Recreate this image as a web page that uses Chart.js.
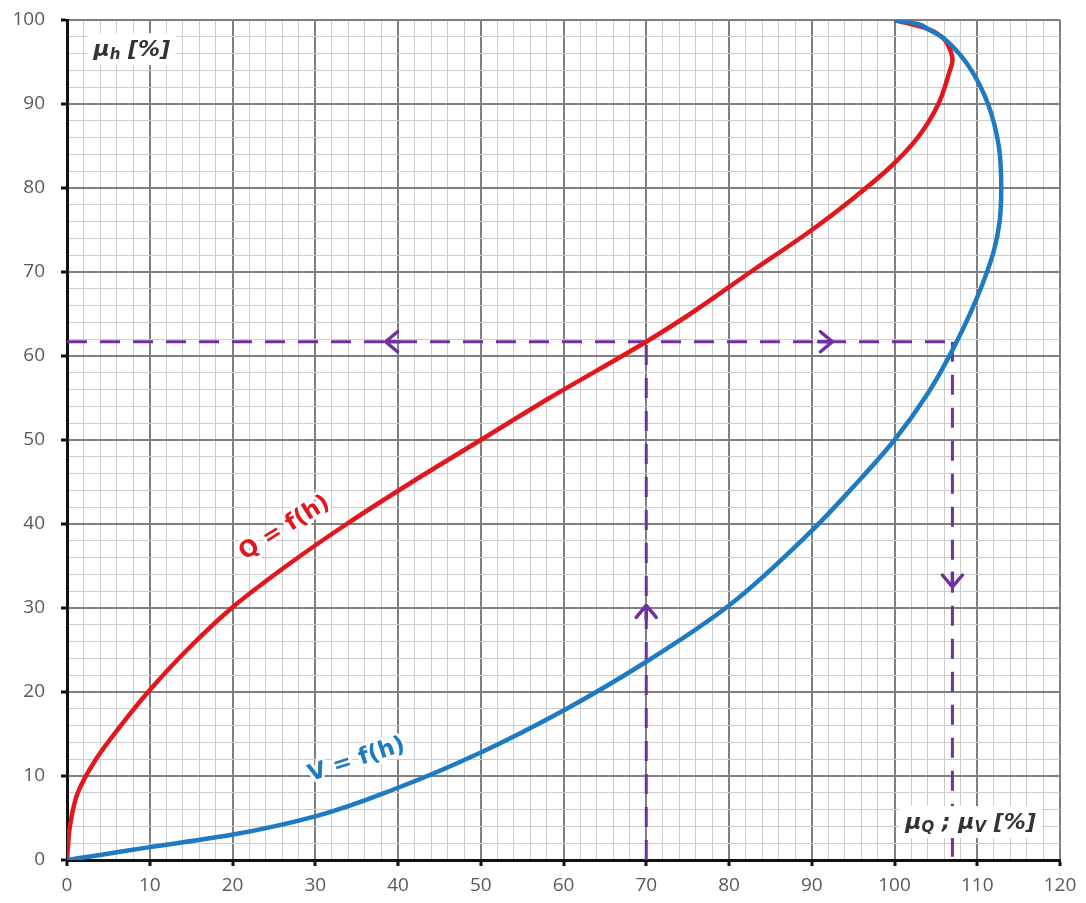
<!DOCTYPE html>
<html>
<head>
<meta charset="utf-8">
<title>Q = f(h), V = f(h)</title>
<script src="https://cdn.jsdelivr.net/npm/chart.js@4.4.0/dist/chart.umd.min.js"></script>
<style>
    html, body { margin: 0; padding: 0; background: #ffffff; }
    #wrap { width: 1086px; height: 903px; }
</style>
</head>
<body>
<div id="wrap"><canvas id="chart" width="1086" height="903"></canvas></div>
<script>
// Q = f(h): relative flow against relative filling height
const qHeights = [0, 4, 8, 12, 16, 20, 25, 30, 35, 40, 45, 50, 55, 61.7, 65, 70, 75, 79, 82.5, 86, 90, 93.7, 95.2, 97.3, 98, 99, 100];
const qFlow    = [0, 0.35, 1.3, 3.5, 6.5, 9.8, 14.5, 19.9, 26.5, 33.8, 41.7, 50, 58.3, 70, 75.3, 82.6, 90, 95.3, 99.5, 102.8, 105.3, 106.6, 107, 106.3, 105.7, 103.9, 100];

// V = f(h): relative velocity against relative filling height
const vHeights  = [0, 0.6, 1.5, 3, 5.2, 8.6, 12.8, 17.8, 23.6, 30.3, 39.2, 44.4, 50, 55.5, 60.7, 67, 72.5, 76, 80, 85, 90, 94, 96, 98, 99, 99.5, 100];
const vVelocity = [0, 4, 9.8, 19.9, 30, 40, 50, 60, 70, 80, 90, 95, 100, 104, 107, 110, 112, 112.7, 112.9, 112.6, 111.3, 109.3, 107.8, 105.7, 103.9, 102.9, 100];

// reading example: h = 61.7 % gives Q = 70 % and V = 107 %
const guideLevel = 61.7;
const guideFlow = 70;
const guideVelocity = 107;

// arrow heads on the guide lines (tip position, direction)
const arrowX   = [38.5, 92.5, 70, 107];
const arrowY   = [61.7, 61.7, 30.3, 32.5];
const arrowDir = ['left', 'right', 'up', 'down'];

const xMax = 120;
const yMax = 100;

const COLORS = {
    flow: '#e3161e',
    velocity: '#1f7bc1',
    guide: '#7030a0',
    text: '#333333',
    tick: '#5a5a5a',
    gridMajor: '#808080',
    gridMinor: '#cccccc',
    axis: '#111111',
};

const toPoints = (xs, ys) => xs.map((v, i) => ({ x: v, y: ys[i] }));
const isMajor = (v) => Math.abs(v % 10) < 1e-6;

/**
 * 눈금 보조선 스타일 (10 단위 굵게, 2 단위 가늘게)
 */
function gridOptions() {
    return {
        color: (c) => (c.tick && isMajor(c.tick.value) ? COLORS.gridMajor : COLORS.gridMinor),
        lineWidth: (c) => (c.tick && isMajor(c.tick.value) ? 2 : 1),
        tickColor: (c) => (c.tick && isMajor(c.tick.value) ? COLORS.axis : 'rgba(0,0,0,0)'),
        tickLength: 6,
        tickWidth: 3,
    };
}

function tickOptions(padding) {
    return {
        stepSize: 2,
        autoSkip: false,
        maxRotation: 0,
        padding: padding,
        color: COLORS.tick,
        font: { family: '"Open Sans", sans-serif', size: 19 },
        callback: (v) => (isMajor(v) ? v : ''),
    };
}

const RICH_FONT = 'italic bold 22px "DejaVu Sans"';
const SUB_FONT = 'italic bold 15px "DejaVu Sans"';

// label text with subscripts, e.g. μ + h
function drawRich(ctx, parts, x, y) {
    let cx = x;
    parts.forEach((p) => {
        ctx.font = p.sub ? SUB_FONT : RICH_FONT;
        ctx.fillText(p.t, cx, y + (p.sub ? 5 : 0));
        cx += ctx.measureText(p.t).width;
    });
}

function measureRich(ctx, parts) {
    let w = 0;
    parts.forEach((p) => {
        ctx.font = p.sub ? SUB_FONT : RICH_FONT;
        w += ctx.measureText(p.t).width;
    });
    return w;
}

function drawBoxedLabel(ctx, parts, px, py) {
    const w = measureRich(ctx, parts);
    ctx.fillStyle = '#ffffff';
    ctx.fillRect(px - 6, py - 17, w + 12, 32);
    ctx.fillStyle = COLORS.text;
    ctx.textBaseline = 'middle';
    ctx.textAlign = 'left';
    drawRich(ctx, parts, px, py);
}

function drawCurveLabel(ctx, text, color, px, py, angle) {
    ctx.save();
    ctx.translate(px, py);
    ctx.rotate(angle * Math.PI / 180);
    ctx.font = 'bold 23px "DejaVu Sans"';
    ctx.textAlign = 'center';
    ctx.textBaseline = 'middle';
    ctx.lineJoin = 'round';
    ctx.strokeStyle = 'rgba(255,255,255,0.9)';
    ctx.lineWidth = 6;
    ctx.strokeText(text, 0, 0);
    ctx.fillStyle = color;
    ctx.fillText(text, 0, 0);
    ctx.restore();
}

const annotations = {
    id: 'annotations',
    afterDatasetsDraw(chart) {
        const { ctx, scales: { x, y } } = chart;
        ctx.save();

        // arrow heads on the dashed guides
        ctx.strokeStyle = COLORS.guide;
        ctx.lineWidth = 3.5;
        ctx.lineCap = 'round';
        ctx.lineJoin = 'round';
        const rot = { right: 0, down: Math.PI / 2, left: Math.PI, up: -Math.PI / 2 };
        arrowX.forEach((ax, i) => {
            const px = x.getPixelForValue(ax);
            const py = y.getPixelForValue(arrowY[i]);
            ctx.save();
            ctx.translate(px, py);
            ctx.rotate(rot[arrowDir[i]]);
            ctx.beginPath();
            ctx.moveTo(-12, -10);
            ctx.lineTo(0, 0);
            ctx.lineTo(-12, 10);
            ctx.moveTo(-14, 0);
            ctx.lineTo(0, 0);
            ctx.stroke();
            ctx.restore();
        });

        // curve names
        drawCurveLabel(ctx, 'Q = f(h)', COLORS.flow, x.getPixelForValue(26.3), y.getPixelForValue(39.5), -32);
        drawCurveLabel(ctx, 'V = f(h)', COLORS.velocity, x.getPixelForValue(35), y.getPixelForValue(11.9), -18);

        // axis titles
        drawBoxedLabel(ctx, [{ t: 'μ' }, { t: 'h', sub: true }, { t: ' [%]' }],
            x.getPixelForValue(3.2), y.getPixelForValue(96.4));
        drawBoxedLabel(ctx, [{ t: 'μ' }, { t: 'Q', sub: true }, { t: ' ; μ' }, { t: 'V', sub: true }, { t: ' [%]' }],
            x.getPixelForValue(101.3), y.getPixelForValue(4.4));

        ctx.restore();
    },
};

const guideStyle = {
    borderColor: COLORS.guide,
    borderWidth: 3,
    borderDash: [20, 13],
    pointRadius: 0,
    showLine: true,
    tension: 0,
    order: 3,
};

// both curves are functions of h, so h is the index axis and the
// monotone spline runs along it
const curveStyle = {
    borderWidth: 4.5,
    showLine: true,
    cubicInterpolationMode: 'monotone',
    pointRadius: 0,
};

const chart = new Chart(document.getElementById('chart'), {
    type: 'scatter',
    data: {
        datasets: [
            Object.assign({
                label: 'Q = f(h)',
                data: toPoints(qFlow, qHeights),
                borderColor: COLORS.flow,
                order: 1,
            }, curveStyle),
            Object.assign({
                label: 'V = f(h)',
                data: toPoints(vVelocity, vHeights),
                borderColor: COLORS.velocity,
                order: 0,
            }, curveStyle),
            Object.assign({ data: toPoints([0, guideVelocity], [guideLevel, guideLevel]) }, guideStyle),
            Object.assign({ data: toPoints([guideFlow, guideFlow], [0, guideLevel]) }, guideStyle),
            Object.assign({ data: toPoints([guideVelocity, guideVelocity], [guideLevel, 0]) }, guideStyle),
        ],
    },
    options: {
        indexAxis: 'y',
        responsive: false,
        animation: false,
        layout: { padding: { top: 20, right: 26, left: 0, bottom: 0 } },
        plugins: {
            legend: { display: false },
            tooltip: { enabled: false },
        },
        scales: {
            x: {
                type: 'linear',
                min: 0,
                max: xMax,
                ticks: tickOptions(8),
                grid: gridOptions(),
                border: { color: COLORS.axis, width: 3 },
                afterFit: (scale) => {
                    scale.height = 43;
                    scale.paddingLeft = 0;
                    scale.paddingRight = 0;
                },
            },
            y: {
                type: 'linear',
                min: 0,
                max: yMax,
                ticks: tickOptions(16),
                grid: gridOptions(),
                border: { color: COLORS.axis, width: 3 },
                afterFit: (scale) => {
                    scale.width = 67;
                    scale.paddingTop = 0;
                    scale.paddingBottom = 0;
                },
            },
        },
    },
    plugins: [annotations],
});
</script>
</body>
</html>
